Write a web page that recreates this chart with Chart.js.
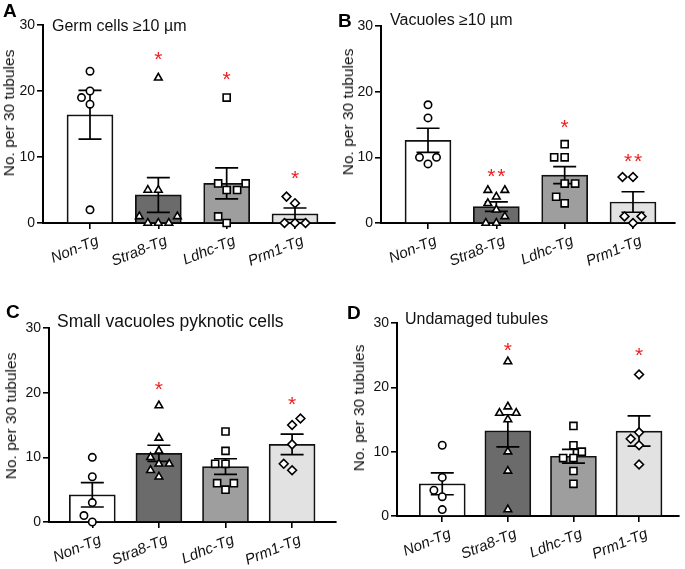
<!DOCTYPE html>
<html><head><meta charset="utf-8">
<script src="https://cdn.jsdelivr.net/npm/chart.js@4.4.1/dist/chart.umd.min.js"></script>
<style>
body{margin:0;background:#fff;width:685px;height:569px;position:relative;overflow:hidden;font-family:"Liberation Sans",Arial,sans-serif;}
canvas{position:absolute;}
.letter{position:absolute;font-weight:bold;font-size:19px;line-height:19px;color:#000;}
.ptitle{position:absolute;font-size:16px;line-height:16px;color:#111;white-space:nowrap;}
.ytitle{position:absolute;font-size:15.5px;line-height:16px;color:#111;white-space:nowrap;transform:translate(-50%,-50%) rotate(-90deg);}
</style></head><body>
<script>
// ---------- data ----------
const categories = ['Non-Tg', 'Stra8-Tg', 'Ldhc-Tg', 'Prm1-Tg'];
const panelLetters = ['A', 'B', 'C', 'D'];
const panelTitles = ['Germ cells \u226510 \u00b5m', 'Vacuoles \u226510 \u00b5m', 'Small vacuoles pyknotic cells', 'Undamaged tubules'];
const yAxisTitle = 'No. per 30 tubules';
const yTicks = [0, 10, 20, 30];

// A: Germ cells >=10 um
const germNonTg = [23, 20, 19, 18, 2];
const germStra8 = [22, 5, 5, 1, 0, 0, 0, 1];
const germLdhc  = [19, 6, 5, 5, 6, 0, 1];
const germPrm1  = [4, 3, 0, 0, 0];
const germMean  = [16.4, 4.25, 6.0, 1.4];
const germSem   = [3.7, 2.64, 2.35, 0.87];
const germSig   = ['', '*', '*', '*'];
const germSigY  = [null, 25.5, 22.5, 7.5];

// B: Vacuoles >=10 um
const vacNonTg = [18, 16, 10, 10, 9];
const vacStra8 = [5, 5, 4, 3, 2, 1, 0, 0];
const vacLdhc  = [12, 10, 10, 6, 6, 3, 4];
const vacPrm1  = [7, 7, 1, 1, 0];
const vacMean  = [12.6, 2.5, 7.29, 3.2];
const vacSem   = [1.83, 0.73, 1.29, 1.56];
const vacSig   = ['', '**', '*', '**'];
const vacSigY  = [null, 7.8, 15.3, 10.2];

// C: Small vacuoles pyknotic cells
const pykNonTg = [10, 7, 3, 1, 0];
const pykStra8 = [18, 13, 11, 10, 9, 9, 8, 7];
const pykLdhc  = [14, 11, 9, 9, 6, 6, 5];
const pykPrm1  = [16, 15, 12, 9, 8];
const pykMean  = [4.2, 10.63, 8.57, 12.0];
const pykSem   = [1.88, 1.24, 1.21, 1.58];
const pykSig   = ['', '*', '', '*'];
const pykSigY  = [null, 21.2, null, 18.9];

// D: Undamaged tubules
const undNonTg = [11, 6, 4, 3, 1];
const undStra8 = [24, 17, 16, 16, 15, 10, 7, 1];
const undLdhc  = [14, 11, 10, 9, 9, 7, 5];
const undPrm1  = [22, 13, 12, 11, 8];
const undMean  = [5.0, 13.25, 9.29, 13.2];
const undSem   = [1.70, 2.49, 1.08, 2.35];
const undSig   = ['', '*', '', '*'];
const undSigY  = [null, 26.5, null, 25.7];

// ---------- presentation ----------
const barColors = ['#ffffff', '#6b6b6b', '#9e9e9e', '#e2e2e2'];
const markerStyles = ['circle', 'triangle', 'rect', 'rectRot'];
const markerRadii = [3.7, 4.4, 5.0, 4.4];

const panels = [
  {groups: [germNonTg, germStra8, germLdhc, germPrm1], mean: germMean, sem: germSem, sig: germSig, sigY: germSigY,
   box: {left: 0, top: 0, w: 342, h: 285}, ax: {l: 43, t: 25, r: 335, b: 223, c0: 90, c3: 295},
   letter: {x: 3, y: 1}, title: {x: 52, y: 18, fs: 16}, ytitle: {x: 9, y: 113}},
  {groups: [vacNonTg, vacStra8, vacLdhc, vacPrm1], mean: vacMean, sem: vacSem, sig: vacSig, sigY: vacSigY,
   box: {left: 342, top: 0, w: 343, h: 285}, ax: {l: 381, t: 26, r: 675, b: 223, c0: 428, c3: 633},
   letter: {x: 338, y: 11}, title: {x: 390, y: 12, fs: 16}, ytitle: {x: 348, y: 112}},
  {groups: [pykNonTg, pykStra8, pykLdhc, pykPrm1], mean: pykMean, sem: pykSem, sig: pykSig, sigY: pykSigY,
   box: {left: 0, top: 285, w: 342, h: 284}, ax: {l: 49, t: 328, r: 340, b: 522, c0: 93, c3: 296},
   letter: {x: 6, y: 302}, title: {x: 57, y: 313, fs: 17.5}, ytitle: {x: 11, y: 416}},
  {groups: [undNonTg, undStra8, undLdhc, undPrm1], mean: undMean, sem: undSem, sig: undSig, sigY: undSigY,
   box: {left: 342, top: 285, w: 343, h: 284}, ax: {l: 397, t: 323, r: 683, b: 516, c0: 443, c3: 643},
   letter: {x: 347, y: 303}, title: {x: 405, y: 311, fs: 16}, ytitle: {x: 359, y: 408}}
];

function swarm(vals, pxX, pxY, D) {
  const order = vals.map((v, i) => i).sort((a, b) => vals[a] - vals[b]);
  const placed = [];
  const off = new Array(vals.length);
  let side = -1;
  for (const i of order) {
    const yv = vals[i] * pxY;
    let best = null;
    for (let s = 0; s <= 80 && best === null; s += 0.5) {
      const cands = s === 0 ? [0] : [side * s, -side * s];
      for (const xp of cands) {
        if (placed.every(q => Math.hypot(q.x - xp, q.y - yv) >= D)) { best = xp; break; }
      }
    }
    if (best !== 0) side = -side;
    placed.push({x: best, y: yv});
    off[i] = best / pxX;
  }
  return off;
}

const FONT = '"Liberation Sans", Arial, sans-serif';

function makeExtras(p) {
  return {
    id: 'extras',
    afterDatasetDraw(chart, args) {
      if (args.index !== 0) return;
      const {ctx} = chart;
      const x = chart.scales.x, y = chart.scales.y;
      ctx.save();
      ctx.strokeStyle = '#000';
      ctx.lineWidth = 1.7;
      p.mean.forEach((m, i) => {
        const cx = x.getPixelForValue(i);
        const yt = y.getPixelForValue(m + p.sem[i]);
        const yb = y.getPixelForValue(Math.max(0, m - p.sem[i]));
        ctx.beginPath();
        ctx.moveTo(cx, yt); ctx.lineTo(cx, yb);
        ctx.moveTo(cx - 11.5, yt); ctx.lineTo(cx + 11.5, yt);
        ctx.moveTo(cx - 11.5, yb); ctx.lineTo(cx + 11.5, yb);
        ctx.stroke();
      });
      ctx.restore();
    },
    afterDraw(chart) {
      const {ctx} = chart;
      const x = chart.scales.x, y = chart.scales.y;
      ctx.save();
      ctx.fillStyle = '#f21d1d';
      ctx.font = '21px ' + FONT;
      ctx.textAlign = 'center';
      ctx.textBaseline = 'alphabetic';
      p.sig.forEach((s, i) => {
        if (!s) return;
        const cx = x.getPixelForValue(i);
        const cy = y.getPixelForValue(p.sigY[i]);
        const n = s.length;
        for (let k = 0; k < n; k++) {
          ctx.fillText('*', cx + (k - (n - 1) / 2) * 10, cy + 11.5);
        }
      });
      ctx.restore();
    }
  };
}

panels.forEach((p, pi) => {
  const B = p.box, A = p.ax;
  const spacing = (A.c3 - A.c0) / 3;
  const xmin = (A.l - A.c0) / spacing;
  const xmax = (A.r - A.c0) / spacing;
  const pxY = (A.b - A.t) / 30;

  const cv = document.createElement('canvas');
  cv.width = B.w; cv.height = B.h;
  cv.style.left = B.left + 'px'; cv.style.top = B.top + 'px';
  document.body.appendChild(cv);

  const lt = document.createElement('div');
  lt.className = 'letter'; lt.textContent = panelLetters[pi];
  lt.style.left = p.letter.x + 'px'; lt.style.top = p.letter.y + 'px';
  document.body.appendChild(lt);

  const tt = document.createElement('div');
  tt.className = 'ptitle'; tt.textContent = panelTitles[pi];
  tt.style.left = p.title.x + 'px'; tt.style.top = p.title.y + 'px';
  tt.style.fontSize = p.title.fs + 'px';
  document.body.appendChild(tt);

  const yt = document.createElement('div');
  yt.className = 'ytitle'; yt.textContent = yAxisTitle;
  yt.style.left = p.ytitle.x + 'px'; yt.style.top = p.ytitle.y + 'px';
  document.body.appendChild(yt);

  const datasets = [{
    type: 'bar',
    data: p.mean.map((m, i) => ({x: i, y: m})),
    backgroundColor: barColors,
    borderColor: '#111',
    borderWidth: 1.7,
    borderSkipped: 'bottom',
    barThickness: 46,
    order: 10
  }];
  p.groups.forEach((g, gi) => {
    const off = swarm(g, spacing, pxY, 10.5);
    datasets.push({
      type: 'scatter',
      data: g.map((v, k) => ({x: gi + off[k], y: v})),
      pointStyle: markerStyles[gi],
      pointRadius: markerRadii[gi],
      pointBackgroundColor: '#fff',
      pointBorderColor: '#000',
      pointBorderWidth: 1.6,
      clip: false,
      order: 1
    });
  });

  new Chart(cv, {
    type: 'bar',
    data: {datasets},
    options: {
      responsive: false,
      animation: false,
      events: [],
      layout: {padding: {left: 0, top: A.t - B.top, right: B.left + B.w - A.r, bottom: 0}},
      plugins: {legend: {display: false}, tooltip: {enabled: false}, title: {display: false}},
      scales: {
        x: {
          type: 'linear', min: xmin, max: xmax, offset: false,
          afterBuildTicks: s => { s.ticks = categories.map((c, i) => ({value: i})); },
          afterFit: s => { s.height = B.top + B.h - A.b; },
          ticks: {
            autoSkip: false, minRotation: 22, maxRotation: 22, padding: 3, labelOffset: 8,
            color: '#111', font: {family: FONT, size: 15, style: 'italic'},
            callback: v => categories[Math.round(v)]
          },
          grid: {display: true, offset: false, drawOnChartArea: false, drawTicks: true, tickLength: 6, color: '#000', lineWidth: 1.6},
          border: {display: true, color: '#000', width: 2}
        },
        y: {
          type: 'linear', min: 0, max: 30,
          afterBuildTicks: s => { s.ticks = yTicks.map(v => ({value: v})); },
          afterFit: s => { s.width = A.l - B.left; },
          ticks: {color: '#111', padding: 2, font: {family: FONT, size: 14}},
          grid: {display: true, offset: false, drawOnChartArea: false, drawTicks: true, tickLength: 6, color: '#000', lineWidth: 1.6},
          border: {display: true, color: '#000', width: 2}
        }
      }
    },
    plugins: [makeExtras(p)]
  });
});
</script>
</body></html>
